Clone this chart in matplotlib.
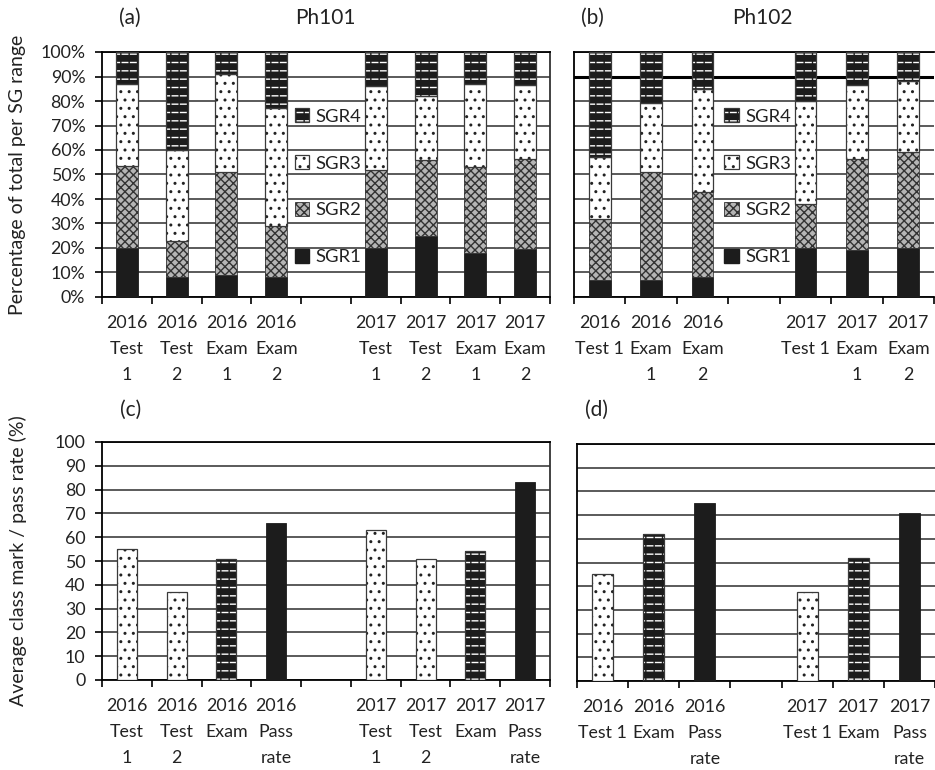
import numpy as np
import matplotlib
matplotlib.use("Agg")
import matplotlib.pyplot as plt
from matplotlib.patches import Patch
from matplotlib.legend_handler import HandlerTuple

plt.rcParams['font.family'] = ['Lato', 'DejaVu Sans']
plt.rcParams['hatch.linewidth'] = 1.0

# ---------------- data ----------------
cats_a = ["2016\nTest\n1", "2016\nTest\n2", "2016\nExam\n1", "2016\nExam\n2", "",
          "2017\nTest\n1", "2017\nTest\n2", "2017\nExam\n1", "2017\nExam\n2"]
sgr1_a = [20, 8, 9, 8, np.nan, 20, 25, 18, 19.5]
sgr2_a = [33.5, 15, 42, 21, np.nan, 32, 31, 35, 37]
sgr3_a = [33.5, 37, 40, 48, np.nan, 34, 26, 34, 30]
sgr4_a = [13, 40, 9, 23, np.nan, 14, 18, 13, 13.5]

cats_b = ["2016\nTest 1", "2016\nExam\n1", "2016\nExam\n2", "",
          "2017\nTest 1", "2017\nExam\n1", "2017\nExam\n2"]
sgr1_b = [7, 7, 8, np.nan, 20, 19, 20]
sgr2_b = [25, 44, 35, np.nan, 18, 37.5, 39]
sgr3_b = [25, 28, 42, np.nan, 42, 30, 29]
sgr4_b = [43, 21, 15, np.nan, 20, 13.5, 12]

cats_c = ["2016\nTest\n1", "2016\nTest\n2", "2016\nExam", "2016\nPass\nrate", "",
          "2017\nTest\n1", "2017\nTest\n2", "2017\nExam", "2017\nPass\nrate"]
vals_c = [55, 37, 51, 66, np.nan, 63, 51, 54, 83]
kind_c = ["test", "test", "exam", "pass", "", "test", "test", "exam", "pass"]

cats_d = ["2016\nTest 1", "2016\nExam", "2016\nPass\nrate", "",
          "2017\nTest 1", "2017\nExam", "2017\nPass\nrate"]
vals_d = [45, 62, 75, np.nan, 37.5, 52, 71]
kind_d = ["test", "exam", "pass", "", "test", "exam", "pass"]

sgr_labels = ["SGR1", "SGR2", "SGR3", "SGR4"]
pct_ticks = [f"{v}%" for v in range(0, 101, 10)]
num_ticks = [str(v) for v in range(0, 101, 10)]

# ---------------- styles ----------------
DARK = '#1c1c1c'
GRID = '#2e2e2e'
EDGE = '#3a3a3a'
TXT = '#222222'
FS = 12.8


def draw_bars(ax, x, h, bottom, style, width):
    """Draw bars in one of the pattern styles."""
    if style == 'sgr1' or style == 'pass':
        ax.bar(x, h, width, bottom=bottom, color=DARK, edgecolor=DARK, linewidth=0.6, zorder=3)
    elif style == 'sgr2':
        ax.bar(x, h, width, bottom=bottom, facecolor='#b5b5b5', edgecolor='#333333',
               hatch='xxxx', linewidth=0, zorder=3)
        ax.bar(x, h, width, bottom=bottom, fill=False, edgecolor=EDGE, linewidth=0.6, zorder=4)
    elif style in ('sgr3', 'test'):
        ax.bar(x, h, width, bottom=bottom, facecolor='white', edgecolor='#222222',
               hatch='..', linewidth=0, zorder=3)
        ax.bar(x, h, width, bottom=bottom, fill=False, edgecolor=EDGE, linewidth=0.9, zorder=4)
    elif style in ('sgr4', 'exam'):
        ax.bar(x, h, width, bottom=bottom, facecolor=DARK, edgecolor='white',
               hatch='--', linewidth=0, zorder=3)
        ax.bar(x, h, width, bottom=bottom, fill=False, edgecolor=DARK,
               hatch='||', linewidth=0, zorder=3.5)
        ax.bar(x, h, width, bottom=bottom, fill=False, edgecolor=EDGE, linewidth=0.9, zorder=4)


def legend_handle(style):
    if style == 'sgr1':
        return Patch(facecolor=DARK, edgecolor=DARK)
    if style == 'sgr2':
        return Patch(facecolor='#b5b5b5', edgecolor='#333333', hatch='xxxx', linewidth=0.6)
    if style == 'sgr3':
        return (Patch(facecolor='white', edgecolor='#222222', hatch='..', linewidth=0),
                Patch(fill=False, edgecolor=EDGE, linewidth=0.9))
    return (Patch(facecolor=DARK, edgecolor='white', hatch='--', linewidth=0),
            Patch(fill=False, edgecolor=DARK, hatch='||', linewidth=0),
            Patch(fill=False, edgecolor=EDGE, linewidth=0.9))


def setup_axis(ax, cats, ylabels, show_right=True):
    n = len(cats)
    ax.set_xlim(-0.5, n - 0.5)
    ax.set_ylim(0, 100)
    ax.set_yticks(range(0, 101, 10))
    ax.yaxis.grid(True, color=GRID, linewidth=1.1)
    ax.set_axisbelow(True)
    ax.set_xticks(range(n))
    ax.set_xticklabels(cats, fontsize=FS, color=TXT, linespacing=1.75, va='top')
    ax.set_xticks(np.arange(-0.5, n, 1.0), minor=True)
    ax.tick_params(axis='x', which='major', length=0, pad=13)
    ax.tick_params(axis='x', which='minor', length=5, width=1.2, color='black', direction='out')
    if ylabels is None:
        ax.tick_params(axis='y', length=0, labelleft=False)
    else:
        ax.set_yticklabels(ylabels, fontsize=FS, color=TXT)
        ax.tick_params(axis='y', length=5, width=1.2, pad=7)
    for s in ['left', 'bottom', 'top']:
        ax.spines[s].set_color('black')
        ax.spines[s].set_linewidth(1.3)
    ax.spines['right'].set_visible(show_right)
    ax.spines['right'].set_color('#333333')
    ax.spines['right'].set_linewidth(1.3)


fig = plt.figure(figsize=(9.35, 7.7), dpi=100)
W, H = 935.0, 770.0


def add_ax(l, t, r, b):
    return fig.add_axes([l / W, 1 - b / H, (r - l) / W, (b - t) / H])


ax_a = add_ax(102, 52, 550, 297)
ax_b = add_ax(574, 52, 934, 297)
ax_c = add_ax(102, 442, 550, 680)
ax_d = add_ax(577, 444, 935, 681)

# ---- stacked panels (a), (b)
for ax, cats, s1, s2, s3, s4, ylab, w, right in [
        (ax_a, cats_a, sgr1_a, sgr2_a, sgr3_a, sgr4_a, pct_ticks, 0.44, True),
        (ax_b, cats_b, sgr1_b, sgr2_b, sgr3_b, sgr4_b, None, 0.42, False)]:
    setup_axis(ax, cats, ylab, show_right=right)
    x = np.arange(len(cats))
    segs = [np.array(s1, float), np.array(s2, float), np.array(s3, float), np.array(s4, float)]
    bottom = np.zeros(len(cats))
    for seg, style in zip(segs, ['sgr1', 'sgr2', 'sgr3', 'sgr4']):
        draw_bars(ax, x, seg, bottom, style, w)
        bottom = bottom + np.nan_to_num(seg)
    handles = [legend_handle(s) for s in ['sgr4', 'sgr3', 'sgr2', 'sgr1']]
    lx = 0.505 if ax is ax_a else 0.51
    ax.legend(handles, sgr_labels[::-1], loc='center', bbox_to_anchor=(lx, 0.45),
              frameon=False, fontsize=FS + 0.5, labelspacing=1.65, handlelength=0.8,
              handleheight=0.8, handletextpad=0.35, borderpad=0,
              handler_map={tuple: HandlerTuple(ndivide=1, pad=0)},
              labelcolor=TXT)

# thicker 90% line in (b)
for gl, v in zip(ax_b.get_ygridlines(), range(0, 101, 10)):
    if v == 90:
        gl.set_linewidth(2.2)
        gl.set_color('black')

# ---- single-bar panels (c), (d)
for ax, cats, vals, kinds, ylab, w in [
        (ax_c, cats_c, vals_c, kind_c, num_ticks, 0.40),
        (ax_d, cats_d, vals_d, kind_d, None, 0.41)]:
    setup_axis(ax, cats, ylab, show_right=(ax is ax_c))
    for i, (v, k) in enumerate(zip(vals, kinds)):
        if k:
            draw_bars(ax, [i], [v], [0], k, w)

# ---- texts
fig.text(18 / W, 1 - 174.5 / H, "Percentage of total per SG range", rotation=90,
         ha='center', va='center', fontsize=14, color=TXT)
fig.text(18 / W, 1 - 561 / H, "Average class mark / pass rate (%)", rotation=90,
         ha='center', va='center', fontsize=14, color=TXT)
for txt, xx, yy in [("(a)", 130, 18), ("Ph101", 325, 18), ("(b)", 592, 18), ("Ph102", 762, 18),
                    ("(c)", 131, 410), ("(d)", 596, 410)]:
    fig.text(xx / W, 1 - yy / H, txt, ha='center', va='center', fontsize=15, color=TXT)

fig.savefig("out.png", dpi=100)
